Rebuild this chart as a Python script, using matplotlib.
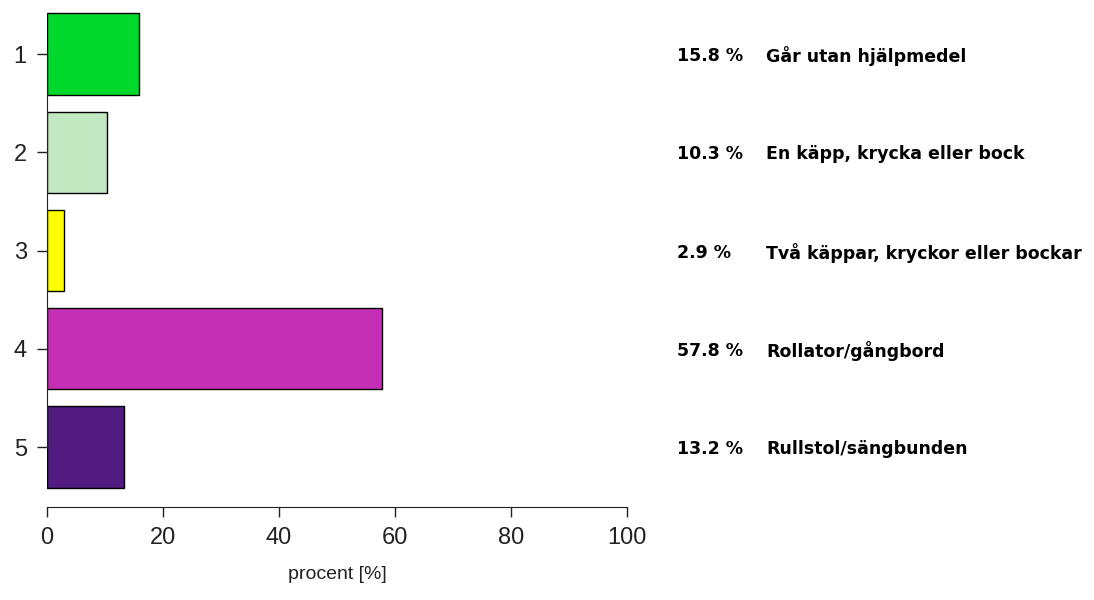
import matplotlib
matplotlib.use("Agg")
import matplotlib.pyplot as plt
from matplotlib import font_manager
from matplotlib.transforms import blended_transform_factory

categories = ["1", "2", "3", "4", "5"]
values = [15.8, 10.3, 2.9, 57.8, 13.2]
labels = ["Går utan hjälpmedel", "En käpp, krycka eller bock",
          "Två käppar, kryckor eller bockar", "Rollator/gångbord",
          "Rullstol/sängbunden"]
colors = ["#00d92b", "#c1e8c1", "#ffff00", "#c42fb5", "#511b80"]
xticks = [0, 20, 40, 60, 80, 100]

names = {f.name for f in font_manager.fontManager.ttflist}
axis_font = "Liberation Sans Narrow" if "Liberation Sans Narrow" in names else "Liberation Sans"

W, H = 1094, 600
fig = plt.figure(figsize=(W / 100, H / 100), dpi=100)
ax = fig.add_axes([47 / W, 1 - 492 / H, 580 / W, 482 / H])

pos = list(range(1, len(values) + 1))
ax.barh(pos, values, height=0.825, color=colors, edgecolor="black", linewidth=1.0)
ax.set_xlim(0, 100)
ax.set_ylim(5.458, 0.552)

for s in ["top", "right"]:
    ax.spines[s].set_visible(False)
ax.spines["left"].set_bounds(1, 5)
ax.spines["bottom"].set_position(("outward", 11))
ax.spines["left"].set_color("#222222")
ax.spines["bottom"].set_color("#222222")

ax.set_xticks(xticks)
ax.set_yticks(pos)
ax.set_yticklabels(categories)
ax.tick_params(axis="both", length=7.5, width=1, color="#222222",
               labelsize=17, labelcolor="#222222")
ax.tick_params(axis="x", pad=7)
ax.tick_params(axis="y", pad=7)
for t in ax.get_xticklabels() + ax.get_yticklabels():
    t.set_fontfamily(axis_font)

ax.set_xlabel("procent [%]", fontsize=14, fontfamily=axis_font,
              color="#222222", labelpad=12)

# percentage and description text on the right
tr = blended_transform_factory(fig.transFigure, ax.transData)
for p, v, lab in zip(pos, values, labels):
    ax.text(677 / W, p, f"{v:.1f} %", transform=tr, fontsize=12.5,
            fontweight="bold", va="center_baseline", ha="left", family="DejaVu Sans")
    ax.text(766 / W, p, lab, transform=tr, fontsize=12.5,
            fontweight="bold", va="center_baseline", ha="left", family="DejaVu Sans")

fig.savefig("out.png", dpi=100)
